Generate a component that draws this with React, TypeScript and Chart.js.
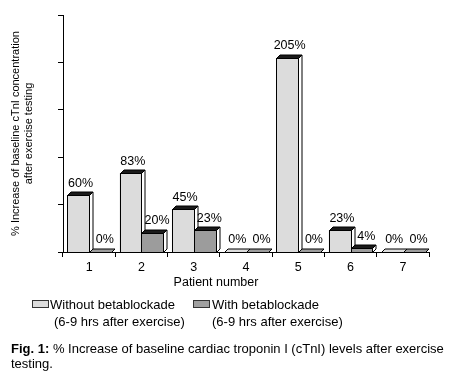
import React, { useEffect, useRef } from 'react';
import { Chart, registerables } from 'chart.js';
Chart.register(...registerables);

const FONT = '"Liberation Sans", Arial, Helvetica, sans-serif';

const categories = ['1', '2', '3', '4', '5', '6', '7'];
const withoutBeta = [60, 83, 45, 0, 205, 23, 0];
const withBeta = [0, 20, 23, 0, 0, 4, 0];
const seriesNames = ['Without betablockade', 'With betablockade'];
const seriesSub = '(6-9 hrs after exercise)';
const yMin = 0;
const yMax = 250;
const yStep = 50;
const yTitle = ['% Increase of baseline cTnI concentration', 'after exercise testing'];
const xTitle = 'Patient number';
const captionBold = 'Fig. 1:';
const captionLine1 = ' % Increase of baseline cardiac troponin I (cTnI) levels after exercise';
const captionLine2 = 'testing.';

const LIGHT = '#dcdcdc';
const DARK = '#9c9c9c';
const DEPTH = 3.5;

const bar3d = {
  id: 'bar3d',
  afterDatasetsDraw(chart: any) {
    const ctx = chart.ctx;
    const colors = [LIGHT, DARK];
    const metas = [chart.getDatasetMeta(0), chart.getDatasetMeta(1)];
    const d = DEPTH;
    ctx.save();
    ctx.lineWidth = 1;
    ctx.strokeStyle = '#000';
    ctx.lineJoin = 'miter';
    const labels: any[] = [];
    for (let i = 0; i < categories.length; i++) {
      metas.forEach((meta: any, di: number) => {
        const el = meta.data[i];
        const { x, y, base, width } = el.getProps(['x', 'y', 'base', 'width'], true);
        const l = Math.round(x - width / 2) + 0.5;
        const r = Math.round(x + width / 2) + 0.5;
        const t = Math.round(y) + 0.5;
        const b = Math.round(base) + 0.5;
        const v = chart.data.datasets[di].data[i];
        if (b - t > 0.9) {
          ctx.fillStyle = colors[di];
          ctx.fillRect(l, t, r - l, b - t);
          ctx.strokeRect(l, t, r - l, b - t);
          ctx.beginPath();
          ctx.moveTo(r, t);
          ctx.lineTo(r + d, t - d);
          ctx.lineTo(r + d, b - d);
          ctx.lineTo(r, b);
          ctx.closePath();
          ctx.fillStyle = '#fff';
          ctx.fill();
          ctx.stroke();
        }
        ctx.beginPath();
        ctx.moveTo(l, t);
        ctx.lineTo(l + d, t - d);
        ctx.lineTo(r + d, t - d);
        ctx.lineTo(r, t);
        ctx.closePath();
        ctx.fillStyle = v > 0 ? '#1a1a1a' : colors[di];
        ctx.fill();
        ctx.stroke();
        labels.push({ x: x + d / 2 + (di === 0 ? 0.5 : 3), y: y - 12, text: v + '%' });
      });
    }
    ctx.fillStyle = '#000';
    ctx.font = '12.5px ' + FONT;
    ctx.textAlign = 'center';
    ctx.textBaseline = 'middle';
    labels.forEach((lb) => ctx.fillText(lb.text, lb.x, lb.y));
    ctx.restore();
  },
};

export default function App() {
  const ref = useRef<HTMLCanvasElement>(null);
  useEffect(() => {
    const chart = new Chart(ref.current as HTMLCanvasElement, {
      type: 'bar',
      data: {
        labels: categories,
        datasets: [
          { label: seriesNames[0], data: withoutBeta, backgroundColor: LIGHT, borderColor: '#000', borderWidth: 0 },
          { label: seriesNames[1], data: withBeta, backgroundColor: DARK, borderColor: '#000', borderWidth: 0 },
        ],
      },
      options: {
        responsive: false,
        animation: false,
        devicePixelRatio: 1,
        categoryPercentage: 0.834,
        barPercentage: 1,
        layout: { padding: { left: 0, top: 15, right: 22, bottom: 100 } },
        plugins: { legend: { display: false }, tooltip: { enabled: false } },
        scales: {
          x: {
            grid: { drawOnChartArea: false, color: '#000', tickLength: 5, offset: true },
            border: { color: '#000' },
            ticks: { color: '#000', font: { size: 12.5, family: FONT }, padding: 3 },
            afterFit: (s: any) => { s.height = 31; },
          },
          y: {
            min: yMin,
            max: yMax,
            ticks: { display: false, stepSize: yStep },
            grid: { drawOnChartArea: false, color: '#000', tickLength: 5 },
            border: { color: '#000' },
            title: {
              display: true,
              text: yTitle,
              color: '#000',
              font: { size: 11, family: FONT, lineHeight: 1.2 },
              padding: { top: 9.5, bottom: 0 },
            },
            afterFit: (s: any) => { s.width = 63; },
          },
        },
      } as any,
      plugins: [bar3d],
    });
    return () => chart.destroy();
  }, []);

  const txt: React.CSSProperties = {
    position: 'absolute',
    fontFamily: FONT,
    fontSize: 13,
    lineHeight: '15px',
    color: '#000',
    whiteSpace: 'nowrap',
  };
  const box = (left: number, color: string): React.CSSProperties => ({
    position: 'absolute',
    left,
    top: 300,
    width: 17,
    height: 8,
    boxSizing: 'border-box',
    border: '1px solid #333',
    background: color,
  });

  return (
    <div style={{ position: 'absolute', left: 0, top: 0, width: 451, height: 383, background: '#fff' }}>
      <canvas ref={ref} width={451} height={383} style={{ position: 'absolute', left: 0, top: 0, width: 451, height: 383 }} />
      <div style={{ ...txt, fontSize: 12.5, left: 216, top: 275, transform: 'translateX(-50%)' }}>{xTitle}</div>
      <div style={box(32, LIGHT)} />
      <div style={{ ...txt, left: 50, top: 296.5 }}>{seriesNames[0]}</div>
      <div style={{ ...txt, left: 54, top: 313.5 }}>{seriesSub}</div>
      <div style={box(193, '#a0a0a0')} />
      <div style={{ ...txt, left: 212, top: 296.5 }}>{seriesNames[1]}</div>
      <div style={{ ...txt, left: 212, top: 313.5 }}>{seriesSub}</div>
      <div style={{ ...txt, left: 11, top: 340.5, lineHeight: '15px' }}>
        <b>{captionBold}</b>{captionLine1}
        <br />
        {captionLine2}
      </div>
    </div>
  );
}
